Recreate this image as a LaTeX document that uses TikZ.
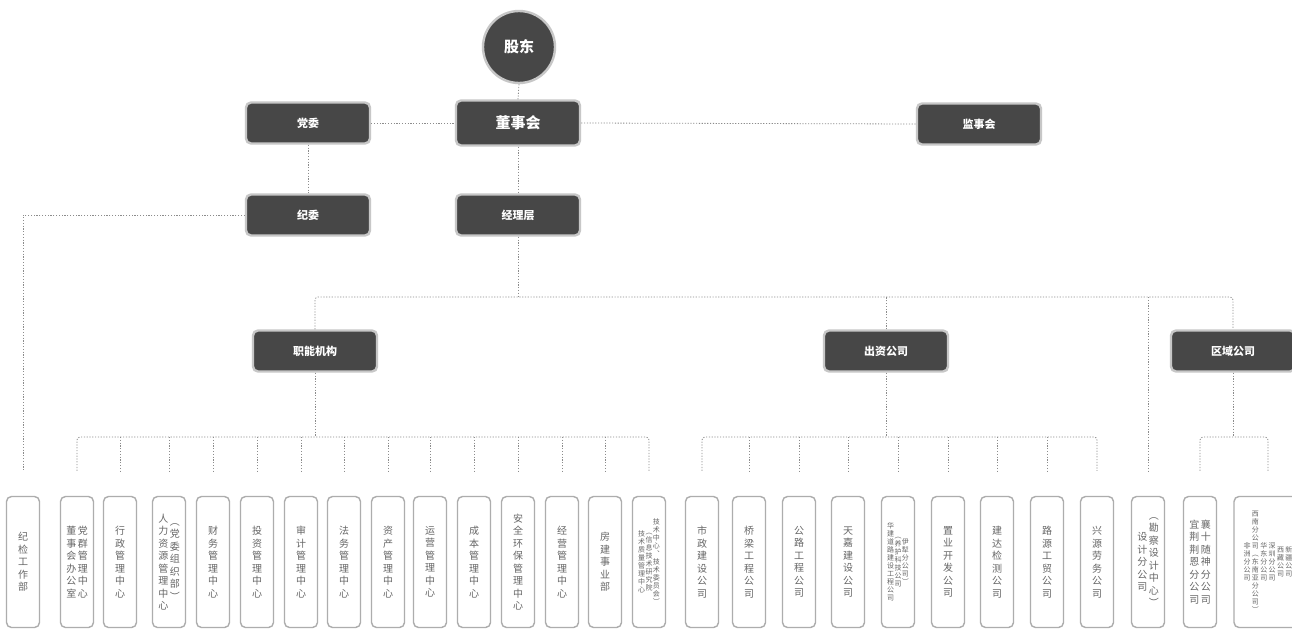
\documentclass[tikz,border=0pt]{standalone}
\usepackage{fontspec}
\setmainfont{Noto Sans CJK SC}
\usetikzlibrary{calc}
\ExplSyntaxOn
\NewDocumentCommand\vt{O{12.5pt}m}{\ensuremath{\vcenter{\baselineskip=#1\relax\lineskiplimit=-20pt\lineskip=0pt\tl_map_inline:nn{#2}{\hbox_to_wd:nn{1.05em}{\hss##1\hss}}}}}
\ExplSyntaxOff
\begin{document}
\begin{tikzpicture}[x=1pt,y=-1pt,
 conn/.style={draw=black!45, line width=0.8pt, dash pattern=on 1.2pt off 1.6pt},
 darkbox/.style={rectangle, rounded corners=5pt, fill=black!72, draw=black!22, line width=2.4pt, text=white, font=\bfseries\fontsize{11}{13}\selectfont, minimum width=124pt, minimum height=41pt, inner sep=0pt},
 lightbox/.style={rectangle, rounded corners=5pt, fill=white, draw=black!32, line width=1.4pt, minimum width=33pt, minimum height=131pt, inner sep=0pt, text=black!60, font=\fontsize{10}{12}\selectfont},
 tinytext/.style={font=\fontsize{7}{8}\selectfont}]
\useasboundingbox (0,0) rectangle (1292,629);
\fill[white] (0,0) rectangle (1292,629);
\clip (0,0) rectangle (1292,629);
% top
\node[circle, fill=black!72, draw=black!22, line width=2.4pt, minimum size=72pt, text=white, font=\bfseries\fontsize{15}{17}\selectfont] (gd) at (519,47) {股东};
\node[darkbox] (dw) at (308,123) {党委};
\node[darkbox, minimum height=45pt, font=\bfseries\fontsize{15}{17}\selectfont] (dsh) at (518,123) {董事会};
\node[darkbox] (jsh) at (979,124) {监事会};
\node[darkbox] (jw) at (308,215) {纪委};
\node[darkbox] (jl) at (518,215) {经理层};
\node[darkbox] (zn) at (315,351) {职能机构};
\node[darkbox] (cz) at (886,351) {出资公司};
\node[darkbox] (qy) at (1233,351) {区域公司};
% bottom boxes
\node[lightbox] (b1) at (23,562) {\vt{纪检工作部}};
\node[lightbox] (b2) at (77,562) {\vt{董事会办公室}\hspace{1pt}\vt{党群管理中心}};
\node[lightbox] (b3) at (120,562) {\vt{行政管理中心}};
\node[lightbox] (b4) at (169,562) {\vt{人力资源管理中心}\hspace{1pt}\vt{︵党委组织部︶}};
\node[lightbox] (b5) at (213,562) {\vt{财务管理中心}};
\node[lightbox] (b6) at (257,562) {\vt{投资管理中心}};
\node[lightbox] (b7) at (301,562) {\vt{审计管理中心}};
\node[lightbox] (b8) at (344,562) {\vt{法务管理中心}};
\node[lightbox] (b9) at (388,562) {\vt{资产管理中心}};
\node[lightbox] (b10) at (430,562) {\vt{运营管理中心}};
\node[lightbox] (b11) at (474,562) {\vt{成本管理中心}};
\node[lightbox] (b12) at (518,562) {\vt{安全环保管理中心}};
\node[lightbox] (b13) at (562,562) {\vt{经营管理中心}};
\node[lightbox] (b14) at (605,562) {\vt{房建事业部}};
\node[lightbox, tinytext] (b15) at (649,562) {\vt[8pt]{技术质量管理中心}\vt[8pt]{︵信息技术研究院}\vt[8pt]{技术中心︑技术委员会︶}};
\node[lightbox] (b16) at (702,562) {\vt{市政建设公司}};
\node[lightbox] (b17) at (749,562) {\vt{桥梁工程公司}};
\node[lightbox] (b18) at (799,562) {\vt{公路工程公司}};
\node[lightbox] (b19) at (848,562) {\vt{天嘉建设公司}};
\node[lightbox, tinytext] (b20) at (898,562) {\vt[8pt]{华建道路建设工程公司}\vt[8pt]{︵养护科技公司}\vt[8pt]{伊犁分公司︶}};
\node[lightbox] (b21) at (948,562) {\vt{置业开发公司}};
\node[lightbox] (b22) at (997,562) {\vt{建达检测公司}};
\node[lightbox] (b23) at (1047,562) {\vt{路源工贸公司}};
\node[lightbox] (b24) at (1097,562) {\vt{兴源劳务公司}};
\node[lightbox] (b25) at (1148,562) {\vt{设计分公司}\hspace{1pt}\vt{︵勘察设计中心︶}};
\node[lightbox] (b26) at (1200,562) {\vt{宜荆荆恩分公司}\hspace{1pt}\vt{襄十随神分公司}};
\node[lightbox, tinytext, minimum width=68pt] (b27) at (1268,562) {\vt[8pt]{非洲分公司}\hspace{1pt}\vt[8pt]{西南分公司︵东南亚分公司︶}\hspace{1pt}\vt[8pt]{华东分公司}\hspace{1pt}\vt[8pt]{深圳分公司}\hspace{1pt}\vt[8pt]{西藏公司}\hspace{1pt}\vt[8pt]{新疆公司}\hspace{8pt}};
% coordinates of buses
\coordinate (busY) at (0,297);
\coordinate (zY) at (0,437);
% top connectors
\draw[conn] (gd.south) -- (dsh.north);
\draw[conn] (dw.east) -- (dsh.west);
\draw[conn] (dsh.east) -- (jsh.west);
\draw[conn] (dw.south) -- (jw.north);
\draw[conn] (dsh.south) -- (jl.north);
\draw[conn] (jw.west) -- (jw.west -| b1.north) -- ([yshift=25pt]b1.north);
% main bus
\draw[conn] (jl.south) -- (jl.south |- busY);
\draw[conn, rounded corners=3pt] (zn.north) -- (zn.north |- busY) -- (qy.north |- busY) -- (qy.north);
\draw[conn] (cz.north) -- (cz.north |- busY);
\draw[conn] (b25.north |- busY) -- ([yshift=25pt]b25.north);
% functional bus
\draw[conn] (zn.south) -- (zn.south |- zY);
\draw[conn, rounded corners=3pt] ([yshift=25pt]b2.north) -- (b2.north |- zY) -- (b15.north |- zY) -- ([yshift=25pt]b15.north);
\foreach \i in {3,...,14} \draw[conn] (b\i.north |- zY) -- ([yshift=25pt]b\i.north);
% invested companies bus
\draw[conn] (cz.south) -- (cz.south |- zY);
\draw[conn, rounded corners=3pt] ([yshift=25pt]b16.north) -- (b16.north |- zY) -- (b24.north |- zY) -- ([yshift=25pt]b24.north);
\foreach \i in {17,...,23} \draw[conn] (b\i.north |- zY) -- ([yshift=25pt]b\i.north);
% regional bus
\draw[conn] (qy.south) -- (qy.south |- zY);
\draw[conn, rounded corners=3pt] ([yshift=25pt]b26.north) -- (b26.north |- zY) -- (b27.north |- zY) -- ([yshift=25pt]b27.north);
\end{tikzpicture}
\end{document}
